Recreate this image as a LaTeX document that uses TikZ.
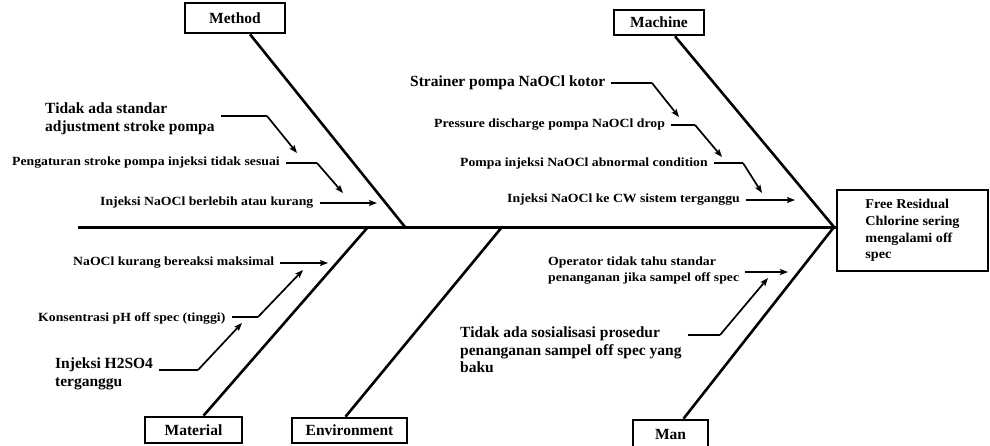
\documentclass[tikz,border=0pt]{standalone}
\usepackage{fontspec}
\setmainfont{Liberation Serif}
\newfontfamily\smf[FakeStretch=1.1]{Liberation Serif}
\newfontfamily\hdf[FakeStretch=1.05]{Liberation Serif}
\usetikzlibrary{arrows.meta,calc}
\begin{document}
\begin{tikzpicture}[x=1pt,y=-1pt,
  bone/.style={line width=2.6pt},
  spine/.style={line width=3pt},
  catbox/.style={draw,line width=2.6pt,inner sep=0pt,font=\bfseries\fontsize{15.5}{18}\selectfont},
  sm/.style={anchor=west,inner sep=0pt,align=left,font=\smf\bfseries\fontsize{12.5}{16}\selectfont},
  lg/.style={anchor=west,inner sep=0pt,align=left,font=\bfseries\fontsize{15.5}{17.5}\selectfont},
  stub/.style={line width=2.4pt,shorten <=6pt},
  arr/.style={line width=1.7pt,-{Stealth[length=8pt,width=6pt,inset=1.5pt]}},
  arrs/.style={line width=1.7pt,shorten <=6pt,-{Stealth[length=8pt,width=6pt,inset=1.5pt]}}
]
\useasboundingbox (0,0) rectangle (990,445);
\fill[white] (0,0) rectangle (990,445);

% head
\node[draw,line width=2.6pt,minimum width=151pt,minimum height=81pt,inner sep=0pt,align=left,
  font=\hdf\bfseries\fontsize{13.5}{16.7}\selectfont] (head) at (912.5,230.5)
  {Free Residual\\Chlorine sering\\mengalami off\\spec};
\coordinate (H) at (834,227);
\coordinate (S0) at (78,227);
\draw[spine] (S0) -- (head.west |- H);

% category boxes
\node[catbox,minimum width=100pt,minimum height=30pt] (method) at (235,18) {Method};
\node[catbox,minimum width=90pt,minimum height=25pt] (machine) at (659,22.5) {Machine};
\node[catbox,minimum width=97pt,minimum height=26pt] (material) at (193.5,430) {Material};
\node[catbox,minimum width=115pt,minimum height=25pt] (env) at (349.5,430.5) {Environment};
\node[catbox,minimum width=75pt,minimum height=28pt] (man) at (670.5,434) {Man};

% bones
\coordinate (Bme) at (405,227);
\coordinate (Bma) at (368,227);
\coordinate (Ben) at (502,227);
\draw[bone] ([xshift=15pt]method.south) -- (Bme);
\draw[bone] ([xshift=16pt]machine.south) -- (H);
\draw[bone] ([xshift=10pt]material.north) -- (Bma);
\draw[bone] ([xshift=-4pt]env.north) -- (Ben);
\draw[bone] ([xshift=13pt]man.north) -- (H);

% Method causes
\node[lg] (m1) at (45,119) {Tidak ada standar\\adjustment stroke pompa};
\node[sm] (m2) at (12,163) {Pengaturan stroke pompa injeksi tidak sesuai};
\node[sm] (m3) at (100,203) {Injeksi NaOCl berlebih atau kurang};
\coordinate (m1k) at (267,116); \coordinate (m1t) at (297,153);
\coordinate (m2k) at (317,163); \coordinate (m2t) at (343,193);
\coordinate (m3t) at (377,203);
\draw[stub] (m1.east |- m1k) -- (m1k); \draw[arr] (m1k) -- (m1t);
\draw[stub] (m2.east |- m2k) -- (m2k); \draw[arr] (m2k) -- (m2t);
\draw[arrs] (m3.east) -- (m3t);

% Machine causes
\node[lg] (c1) at (410,83) {Strainer pompa NaOCl kotor};
\node[sm] (c2) at (434,125) {Pressure discharge pompa NaOCl drop};
\node[sm] (c3) at (460,163) {Pompa injeksi NaOCl abnormal condition};
\node[sm] (c4) at (507,200) {Injeksi NaOCl ke CW sistem terganggu};
\coordinate (c1k) at (652,83); \coordinate (c1t) at (679,117);
\coordinate (c2k) at (695,125); \coordinate (c2t) at (722,157);
\coordinate (c3k) at (743,163); \coordinate (c3t) at (762,193);
\coordinate (c4t) at (795,200);
\draw[stub] (c1.east |- c1k) -- (c1k); \draw[arr] (c1k) -- (c1t);
\draw[stub] (c2.east |- c2k) -- (c2k); \draw[arr] (c2k) -- (c2t);
\draw[stub] (c3.east |- c3k) -- (c3k); \draw[arr] (c3k) -- (c3t);
\draw[arrs] (c4.east) -- (c4t);

% Material causes
\node[sm] (a1) at (73,263) {NaOCl kurang bereaksi maksimal};
\node[sm] (a2) at (38,318) {Konsentrasi pH off spec (tinggi)};
\node[lg] (a3) at (55,374) {Injeksi H2SO4\\terganggu};
\coordinate (a1t) at (328,263);
\coordinate (a2k) at (258,317); \coordinate (a2t) at (303,270);
\coordinate (a3k) at (198,370); \coordinate (a3t) at (242,323);
\draw[arrs] (a1.east) -- (a1t);
\draw[stub] (a2.east |- a2k) -- (a2k); \draw[arr] (a2k) -- (a2t);
\draw[stub] (a3.east |- a3k) -- (a3k); \draw[arr] (a3k) -- (a3t);

% Man causes
\node[sm] (n1) at (548,271) {Operator tidak tahu standar\\penanganan jika sampel off spec};
\node[lg] (n2) at (460,350) {Tidak ada sosialisasi prosedur\\penanganan sampel off spec yang\\baku};
\coordinate (n1t) at (788,272);
\coordinate (n2k) at (720,335); \coordinate (n2t) at (768,278);
\draw[arrs] (n1.east |- n1t) -- (n1t);
\draw[stub] (n2.east |- n2k) -- (n2k); \draw[arr] (n2k) -- (n2t);
\end{tikzpicture}
\end{document}
